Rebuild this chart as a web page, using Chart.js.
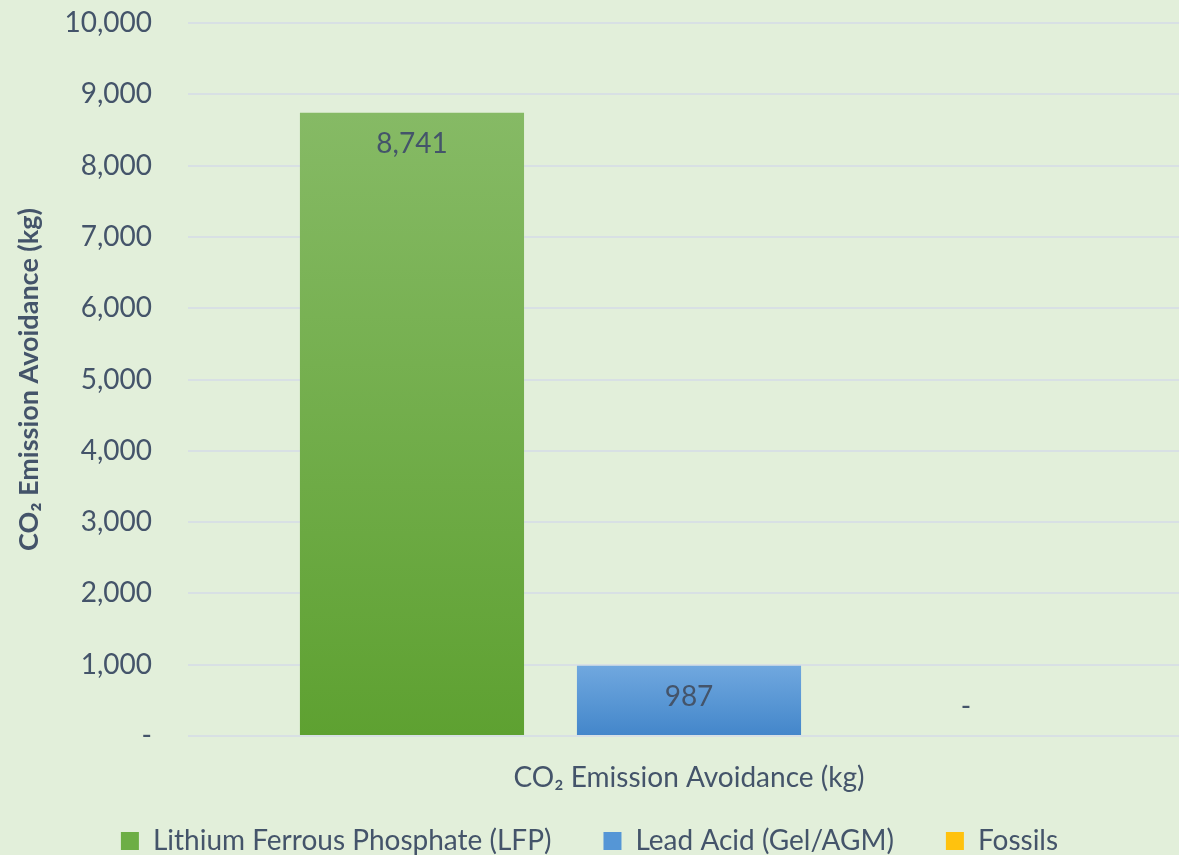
<!DOCTYPE html>
<html>
<head>
<meta charset="utf-8">
<script src="https://cdn.jsdelivr.net/npm/chart.js@4"></script>
<style>
  html, body { margin: 0; padding: 0; background: #E2EFDA; }
  #wrap { width: 1179px; height: 855px; }
</style>
</head>
<body>
<div id="wrap"><canvas id="myChart"></canvas></div>
<script>
const categories = ['CO\u2082 Emission Avoidance (kg)'];
const seriesNames = ['Lithium Ferrous Phosphate (LFP)', 'Lead Acid (Gel/AGM)', 'Fossils'];
const lfpValues = [8741];
const leadAcidValues = [987];
const fossilValues = [0];
const yTicks = [0, 1000, 2000, 3000, 4000, 5000, 6000, 7000, 8000, 9000, 10000];

const textColor = '#44546A';
const fontFamily = 'Lato, "Open Sans", sans-serif';
const fontSize = 28;

function fmt(v) {
    return v === 0 ? '-' : v.toLocaleString('en-US');
}

const palette = [
    ['#86BA65', '#5EA131'],
    ['#70A8DF', '#4386CA'],
    ['#FFC83A', '#E8B000']
];
const legendColors = ['#6DAE45', '#5596D6', '#FFC20E'];

// gradient running over each bar from its top to the baseline
function barColor(i) {
    return (c) => {
        const chart = c.chart;
        if (!chart.chartArea || c.type !== 'data') return palette[i][1];
        const y = chart.scales.y;
        const top = y.getPixelForValue(c.raw);
        const bottom = y.getPixelForValue(0);
        if (bottom - top < 1) return palette[i][1];
        const g = chart.ctx.createLinearGradient(0, top, 0, bottom);
        g.addColorStop(0, palette[i][0]);
        g.addColorStop(1, palette[i][1]);
        return g;
    };
}

// labels drawn inside the top of each bar
const valueLabels = {
    id: 'valueLabels',
    afterDatasetsDraw(chart) {
        const ctx = chart.ctx;
        ctx.save();
        ctx.fillStyle = textColor;
        ctx.font = fontSize + 'px ' + fontFamily;
        ctx.textAlign = 'center';
        ctx.textBaseline = 'middle';
        chart.data.datasets.forEach((ds, i) => {
            chart.getDatasetMeta(i).data.forEach((bar, j) => {
                const v = ds.data[j];
                const y = v === 0 ? bar.y - 29 : bar.y + 31;
                ctx.fillText(fmt(v), bar.x, y);
            });
        });
        ctx.restore();
    }
};

const ctx = document.getElementById('myChart').getContext('2d');
const chart = new Chart(ctx, {
    type: 'bar',
    data: {
        labels: categories,
        datasets: [
            { label: seriesNames[0], data: lfpValues, backgroundColor: barColor(0) },
            { label: seriesNames[1], data: leadAcidValues, backgroundColor: barColor(1) },
            { label: seriesNames[2], data: fossilValues, backgroundColor: barColor(2) }
        ]
    },
    options: {
        responsive: true,
        maintainAspectRatio: false,
        animation: false,
        devicePixelRatio: 1,
        layout: { padding: { top: 23, right: 0, left: 0, bottom: -10 } },
        categoryPercentage: 0.848,
        barPercentage: 0.809,
        scales: {
            x: {
                grid: { display: false },
                border: { display: false },
                ticks: { color: textColor, font: { size: fontSize, family: fontFamily }, padding: 17 },
                afterFit(scale) {
                    scale.height = 39;
                    // let the category label run into the legend's top padding
                    scale._computeLabelArea = () => undefined;
                }
            },
            y: {
                min: 0,
                max: 10000,
                afterBuildTicks(scale) { scale.ticks = yTicks.map(v => ({ value: v })); },
                grid: { color: '#D8E0E4', lineWidth: 2, tickLength: 11 },
                border: { display: false },
                ticks: {
                    color: textColor,
                    font: { size: fontSize, family: fontFamily },
                    padding: 36,
                    callback: (v) => fmt(v)
                },
                title: {
                    display: true,
                    text: 'CO\u2082 Emission Avoidance (kg)',
                    color: textColor,
                    font: { size: 27, weight: 'bold', family: fontFamily },
                    padding: { top: 13, bottom: 0 }
                },
                afterFit(scale) {
                    scale.width = 199;
                    scale.paddingTop = 0;
                    scale.paddingBottom = 0;
                }
            }
        },
        plugins: {
            legend: {
                position: 'bottom',
                labels: {
                    color: textColor,
                    font: { size: fontSize, family: fontFamily },
                    boxWidth: 18,
                    boxHeight: 18,
                    padding: 52,
                    generateLabels(chart) {
                        return chart.data.datasets.map((ds, i) => ({
                            text: ds.label,
                            fillStyle: legendColors[i],
                            strokeStyle: legendColors[i],
                            lineWidth: 0,
                            fontColor: textColor,
                            datasetIndex: i
                        }));
                    }
                }
            },
            tooltip: { enabled: false }
        }
    },
    plugins: [valueLabels]
});
</script>
</body>
</html>
